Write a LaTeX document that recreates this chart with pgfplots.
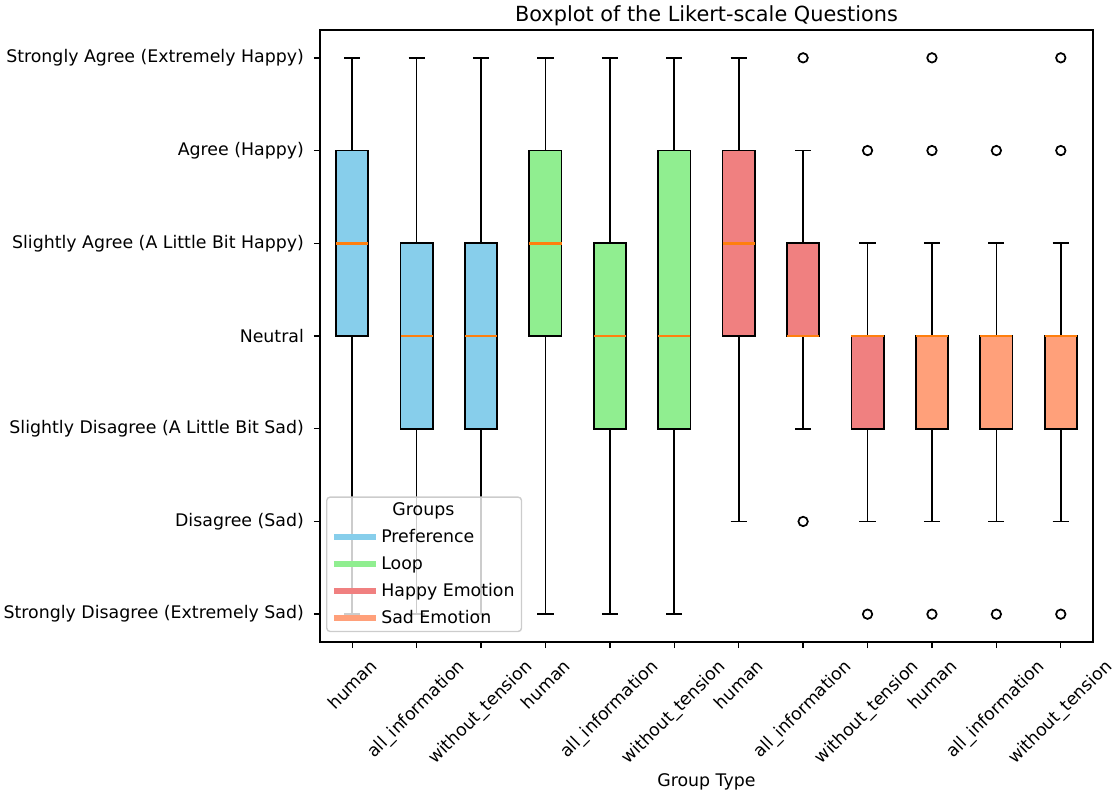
\documentclass[border=0pt]{standalone}
\usepackage{fontspec}
\setmainfont{DejaVu Sans}
\usepackage{pgfplots}
\pgfplotsset{compat=1.18}
\usepgfplotslibrary{statistics}

\definecolor{skyblue}{HTML}{87CEEB}
\definecolor{lightgreen}{HTML}{90EE90}
\definecolor{lightcoral}{HTML}{F08080}
\definecolor{lightsalmon}{HTML}{FFA07A}
\definecolor{mplorange}{HTML}{FF7F0E}

\pgfplotsset{
  bx/.style={draw=black, line width=1.25pt, mark=o, mark size=3.4pt,
    mark options={draw=black, line width=1.25pt}, forget plot},
}

\begin{document}
\begin{tikzpicture}[font=\fontsize{12.5}{15}\selectfont]
\useasboundingbox (0,0) rectangle (804.24pt,573.84pt);
\begin{axis}[
  at={(230.4pt,111.6pt)}, anchor=south west,
  scale only axis, width=556.56pt, height=440.64pt,
  xmin=0.5, xmax=12.5, ymin=0.7, ymax=7.3,
  xtick={1,...,12},
  xticklabels={\rotatebox{45}{human},\rotatebox{45}{all\_information},\rotatebox{45}{without\_tension},
    \rotatebox{45}{human},\rotatebox{45}{all\_information},\rotatebox{45}{without\_tension},
    \rotatebox{45}{human},\rotatebox{45}{all\_information},\rotatebox{45}{without\_tension},
    \rotatebox{45}{human},\rotatebox{45}{all\_information},\rotatebox{45}{without\_tension}},
  xticklabel style={anchor=north, inner sep=0pt, yshift=-7pt},
  ytick={1,...,7},
  yticklabels={Strongly Disagree (Extremely Sad),Disagree (Sad),Slightly Disagree (A Little Bit Sad),Neutral,Slightly Agree (A Little Bit Happy),Agree (Happy),Strongly Agree (Extremely Happy)},
  yticklabel style={anchor=east, inner sep=0pt, xshift=-7pt},
  tick align=outside, major tick length=4.4pt,
  tick style={black, line width=1pt},
  xtick pos=bottom, ytick pos=left,
  axis line style={line width=1pt},
  title={Boxplot of the Likert-scale Questions},
  title style={font=\fontsize{15}{18}\selectfont, anchor=base},
  xlabel={Group Type},
  xlabel style={at={(axis description cs:0.5,0)}, anchor=base, yshift=-104pt},
  boxplot/draw direction=y,
  boxplot/box extend=0.5,
  boxplot/whisker extend=0.25,
  boxplot/every median/.style={draw=mplorange, line width=1.9pt},
  legend style={at={(0.0078,0.016)}, anchor=south west, draw=black!20,
    fill=white, fill opacity=0.8, text opacity=1, rounded corners=2.5pt,
    line width=1pt, row sep=4.6pt, inner xsep=3pt, inner ysep=2pt},
  legend cell align=left,
  legend image code/.code={\draw[#1, line width=4.3pt] (0pt,0pt) -- (30pt,0pt);},
]
% Preference
\addplot[bx, fill=skyblue, boxplot prepared={draw position=1, lower whisker=1, lower quartile=4, median=5, upper quartile=6, upper whisker=7}] coordinates {};
\addplot[bx, fill=skyblue, boxplot prepared={draw position=2, lower whisker=1, lower quartile=3, median=4, upper quartile=5, upper whisker=7}] coordinates {};
\addplot[bx, fill=skyblue, boxplot prepared={draw position=3, lower whisker=1, lower quartile=3, median=4, upper quartile=5, upper whisker=7}] coordinates {};
% Loop
\addplot[bx, fill=lightgreen, boxplot prepared={draw position=4, lower whisker=1, lower quartile=4, median=5, upper quartile=6, upper whisker=7}] coordinates {};
\addplot[bx, fill=lightgreen, boxplot prepared={draw position=5, lower whisker=1, lower quartile=3, median=4, upper quartile=5, upper whisker=7}] coordinates {};
\addplot[bx, fill=lightgreen, boxplot prepared={draw position=6, lower whisker=1, lower quartile=3, median=4, upper quartile=6, upper whisker=7}] coordinates {};
% Happy Emotion
\addplot[bx, fill=lightcoral, boxplot prepared={draw position=7, lower whisker=2, lower quartile=4, median=5, upper quartile=6, upper whisker=7}] coordinates {};
\addplot[bx, fill=lightcoral, boxplot prepared={draw position=8, lower whisker=3, lower quartile=4, median=4, upper quartile=5, upper whisker=6}] table[row sep=\\, y index=0] {y\\ 7\\ 2\\};
\addplot[bx, fill=lightcoral, boxplot prepared={draw position=9, lower whisker=2, lower quartile=3, median=4, upper quartile=4, upper whisker=5}] table[row sep=\\, y index=0] {y\\ 6\\ 1\\};
% Sad Emotion
\addplot[bx, fill=lightsalmon, boxplot prepared={draw position=10, lower whisker=2, lower quartile=3, median=4, upper quartile=4, upper whisker=5}] table[row sep=\\, y index=0] {y\\ 7\\ 6\\ 1\\};
\addplot[bx, fill=lightsalmon, boxplot prepared={draw position=11, lower whisker=2, lower quartile=3, median=4, upper quartile=4, upper whisker=5}] table[row sep=\\, y index=0] {y\\ 6\\ 1\\};
\addplot[bx, fill=lightsalmon, boxplot prepared={draw position=12, lower whisker=2, lower quartile=3, median=4, upper quartile=4, upper whisker=5}] table[row sep=\\, y index=0] {y\\ 7\\ 6\\ 1\\};

\addlegendimage{empty legend}
\addlegendentry{\hspace*{8pt}Groups}
\addlegendimage{skyblue}
\addlegendentry{Preference}
\addlegendimage{lightgreen}
\addlegendentry{Loop}
\addlegendimage{lightcoral}
\addlegendentry{Happy Emotion}
\addlegendimage{lightsalmon}
\addlegendentry{Sad Emotion}
\end{axis}
\end{tikzpicture}
\end{document}
